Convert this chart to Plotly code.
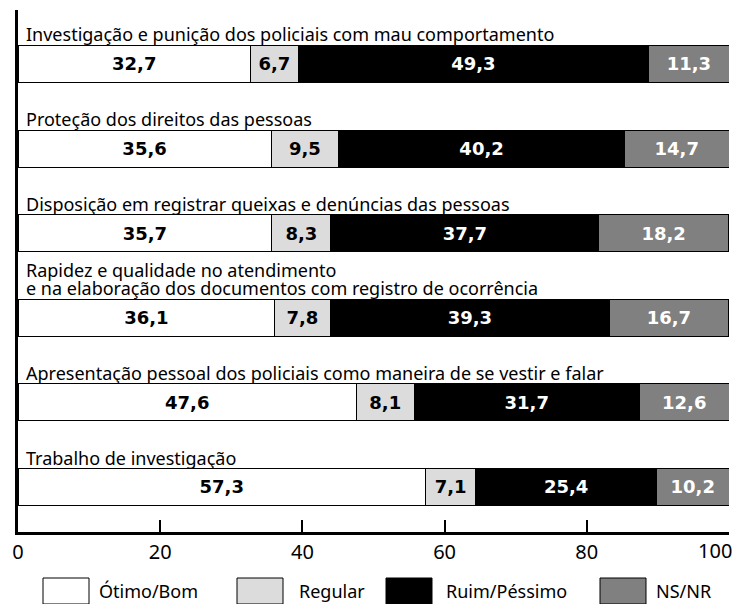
import plotly.graph_objects as go

categories = [
    "Investigação e punição dos policiais com mau comportamento",
    "Proteção dos direitos das pessoas",
    "Disposição em registrar queixas e denúncias das pessoas",
    "Rapidez e qualidade no atendimento<br>e na elaboração dos documentos com registro de ocorrência",
    "Apresentação pessoal dos policiais como maneira de se vestir e falar",
    "Trabalho de investigação",
]
series_names = ["Ótimo/Bom", "Regular", "Ruim/Péssimo", "NS/NR"]
otimo_bom = [32.7, 35.6, 35.7, 36.1, 47.6, 57.3]
regular = [6.7, 9.5, 8.3, 7.8, 8.1, 7.1]
ruim_pessimo = [49.3, 40.2, 37.7, 39.3, 31.7, 25.4]
ns_nr = [11.3, 14.7, 18.2, 16.7, 12.6, 10.2]
x_ticks = [0, 20, 40, 60, 80, 100]

series_values = [otimo_bom, regular, ruim_pessimo, ns_nr]
fill_colors = ["#ffffff", "#dcdcdc", "#000000", "#808080"]
text_colors = ["#000000", "#000000", "#ffffff", "#ffffff"]

# page body has an 8px margin: figure is placed at (8, 8) in the window
OFF = 8
W, H = 743 - OFF, 604 - OFF
ML, MR, MT, MB = 10, 14, 2, 72
PW, PH = W - ML - MR, H - MT - MB


def pxx(p):
    return (p - OFF - ML) / PW


def pxy(p):
    return (H - MB - (p - OFF)) / PH


LABEL_FONT = "Noto Sans"
VALUE_FONT = "DejaVu Sans"

fig = go.Figure()
ypos = list(range(len(categories)))
for name, vals, fc, tc in zip(series_names, series_values, fill_colors, text_colors):
    fig.add_trace(go.Bar(
        y=ypos, x=vals, name=name, orientation="h",
        marker=dict(color=fc, line=dict(color="#000000", width=1)),
        texttemplate="%{x:.1f}", textposition="inside", insidetextanchor="middle",
        textangle=0, constraintext="none",
        textfont=dict(family=VALUE_FONT, size=18, color=tc, weight="bold"),
        showlegend=False, hoverinfo="skip",
    ))

half = (1 - 0.563) / 2
annotations = []
for i, cat in enumerate(categories):
    lines = cat.split("<br>")
    for k, line in enumerate(reversed(lines)):
        annotations.append(dict(
            x=0, y=i - half, xref="x", yref="y", text=line, showarrow=False,
            xanchor="left", yanchor="bottom", xshift=6, yshift=-3 + 18 * k,
            font=dict(family=LABEL_FONT, size=18, color="#000000"),
        ))

# last tick label drawn as an annotation so it stays inside the page
tick_text = [str(t) for t in x_ticks[:-1]] + [""]
annotations.append(dict(x=x_ticks[-1], y=0, xref="x", yref="paper", text=str(x_ticks[-1]),
                        showarrow=False, xanchor="right", yanchor="top", xshift=5, yshift=-3,
                        font=dict(family=LABEL_FONT, size=20, color="#000000")))

# legend
box_x = [43, 237, 386, 600]
lab_x = [97, 297, 444, 654]
shapes = []
for name, fc, bx, lx in zip(series_names, fill_colors, box_x, lab_x):
    shapes.append(dict(type="rect", xref="paper", yref="paper",
                       x0=pxx(bx), x1=pxx(bx + 46), y0=pxy(604), y1=pxy(578),
                       fillcolor=fc, line=dict(color="#000000", width=1)))
    annotations.append(dict(x=pxx(lx), y=pxy(591), xref="paper", yref="paper",
                            text=name, showarrow=False, xanchor="left", yanchor="middle",
                            font=dict(family=LABEL_FONT, size=18, color="#000000")))

fig.update_layout(
    width=W, height=H, barmode="stack", bargap=0.563,
    margin=dict(l=ML, r=MR, t=MT, b=MB, autoexpand=False),
    plot_bgcolor="#ffffff", paper_bgcolor="#ffffff",
    separators=", ",
    annotations=annotations, shapes=shapes,
    xaxis=dict(range=[0, 100], tickvals=x_ticks, ticktext=tick_text, ticks="inside",
               ticklen=12, tickwidth=1.5,
               tickcolor="#000000", showline=True, linecolor="#000000", linewidth=3,
               showgrid=False, zeroline=False, automargin=False,
               tickfont=dict(family=LABEL_FONT, size=20, color="#000000")),
    yaxis=dict(range=[5.532, -0.638], showticklabels=False, ticks="", showline=True,
               linecolor="#000000", linewidth=3, showgrid=False, zeroline=False,
               automargin=False),
)

fig.write_html("out.html")
